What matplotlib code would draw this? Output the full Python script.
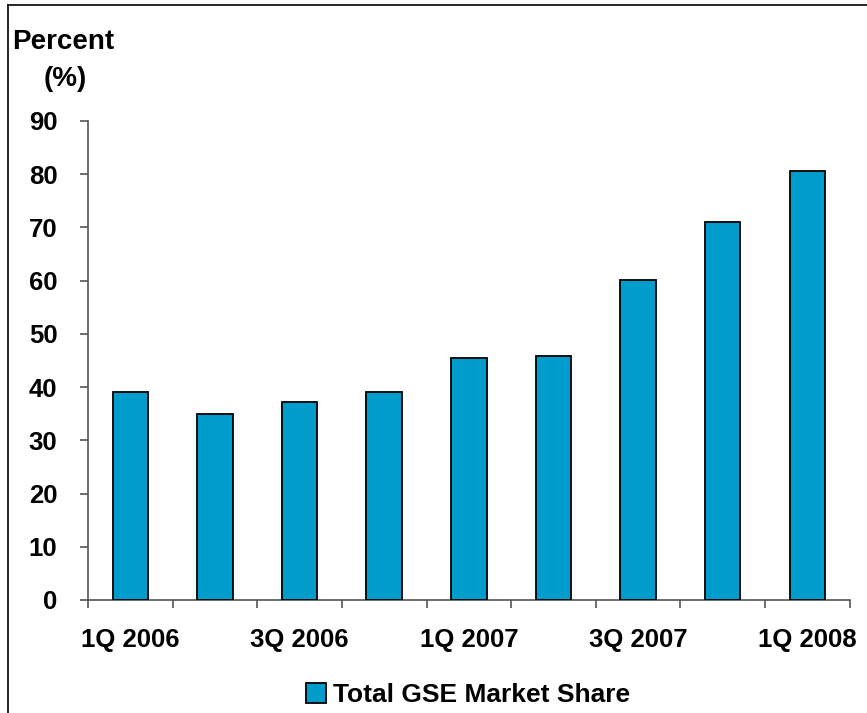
import matplotlib.pyplot as plt
from matplotlib.lines import Line2D
import numpy as np

plt.rcParams['font.family'] = ['Liberation Sans', 'DejaVu Sans']
plt.rcParams['font.weight'] = 'bold'

quarters = ['1Q 2006', '2Q 2006', '3Q 2006', '4Q 2006', '1Q 2007',
            '2Q 2007', '3Q 2007', '4Q 2007', '1Q 2008']
gse_share = [39.1, 35.0, 37.2, 39.1, 45.5, 45.8, 60.2, 71.1, 80.6]
yticks = [0, 10, 20, 30, 40, 50, 60, 70, 80, 90]

fig = plt.figure(figsize=(8.67, 7.13), dpi=100)
ax = fig.add_axes([0.1015, 0.1585, 0.8785, 0.6718])

x = np.arange(len(quarters))
ax.bar(x, gse_share, width=0.42, color='#009CCC', edgecolor='black',
       linewidth=1.3, label='Total GSE Market Share', zorder=3)

ax.set_xlim(-0.5, len(quarters) - 0.5)
ax.set_ylim(0, 90)
ax.set_yticks(yticks)
ax.set_yticklabels([str(v) for v in yticks], fontsize=18.5, fontweight='bold')

# category boundaries get the tick marks, every other quarter gets a label
ax.set_xticks(np.arange(len(quarters) + 1) - 0.5)
ax.set_xticklabels([])
ax.set_xticks(x[::2], minor=True)
ax.set_xticklabels(quarters[::2], minor=True, fontsize=18.5, fontweight='bold')
ax.tick_params(axis='x', which='minor', length=0, pad=20)
ax.tick_params(axis='x', which='major', length=6, width=1.2, color='#555555',
               direction='out')
ax.tick_params(axis='y', length=6, width=1.2, color='#555555', pad=16)

for s in ['top', 'right']:
    ax.spines[s].set_visible(False)
for s in ['left', 'bottom']:
    ax.spines[s].set_color('#555555')
    ax.spines[s].set_linewidth(1.2)

fig.text(0.014, 0.941, 'Percent', fontsize=20, fontweight='bold',
         ha='left', va='center')
fig.text(0.075, 0.889, '(%)', fontsize=20, fontweight='bold',
         ha='center', va='center')

fig.legend(loc='center', bbox_to_anchor=(0.54, 0.025), frameon=False,
           prop={'size': 19, 'weight': 'bold'}, handlelength=0.75,
           handleheight=0.75, handletextpad=0.25)

# frame lines on the left and top of the figure
fig.add_artist(Line2D([0.009, 0.009], [0, 0.993], transform=fig.transFigure,
                      color='black', linewidth=1.2))
fig.add_artist(Line2D([0.009, 1.0], [0.993, 0.993], transform=fig.transFigure,
                      color='black', linewidth=1.2))

fig.savefig('out.png', dpi=100)
